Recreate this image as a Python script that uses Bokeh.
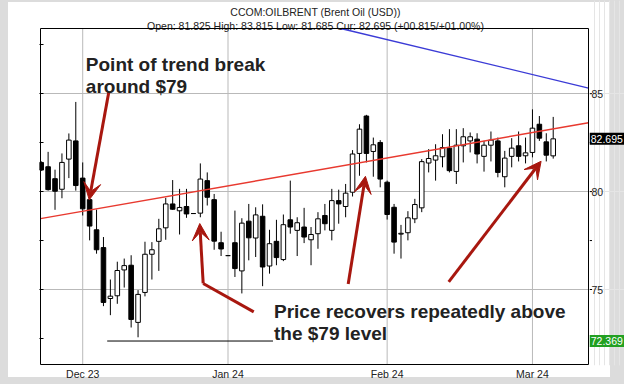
from bokeh.plotting import figure
from bokeh.layouts import column, row
from bokeh.models import (Range1d, FixedTicker, Label, Arrow, VeeHead, ColumnDataSource)
from bokeh.core.properties import value
from bokeh.embed import file_html
from bokeh.resources import INLINE

# ---------------- data (trading-day index 0 = 23 Nov 2023) ----------------
opens = [81.49, 81.27, 80.66, 80.12, 81.66, 82.59, 80.69, 79.59, 78.05, 77.14,
         74.54, 74.68, 76.00, 76.24, 73.32, 74.85, 76.80, 77.46, 78.15, 79.37,
         79.02, 79.24, 78.88, 78.90, 80.56, 79.59, 77.39, 76.73, 77.39, 75.95,
         78.49, 77.63, 78.74, 76.20, 77.46, 76.53, 78.56, 78.02, 78.19, 77.54,
         77.85, 78.78, 78.02, 79.54, 79.24, 79.97, 81.95, 83.86, 82.05, 82.51,
         80.48, 79.20, 77.83, 77.90, 78.61, 79.17, 81.46, 81.61, 81.78, 82.22,
         81.03, 82.34, 82.59, 82.68, 81.80, 82.37, 82.59, 80.76, 81.80, 82.34,
         81.83, 82.00, 83.44, 82.54, 81.825]
highs = [81.55, 82.03, 81.12, 81.95, 82.97, 84.58, 81.49, 79.70, 79.08, 77.68,
         75.51, 76.42, 76.58, 76.75, 74.97, 77.44, 77.42, 78.61, 79.68, 80.59,
         80.14, 80.14, 78.88, 81.44, 80.98, 79.88, 77.95, 76.73, 79.03, 78.64,
         79.37, 79.20, 79.35, 78.05, 78.56, 78.83, 80.56, 78.69, 79.17, 78.19,
         78.95, 79.37, 80.14, 80.10, 80.39, 82.12, 83.44, 83.92, 82.76, 82.63,
         80.56, 79.37, 78.30, 79.00, 79.63, 81.66, 82.17, 82.42, 82.93, 83.19,
         83.19, 83.24, 83.02, 82.98, 82.59, 83.07, 82.76, 82.08, 82.73, 83.07,
         82.76, 84.20, 83.86, 82.98, 83.815]
lows = [81.05, 80.05, 79.07, 79.66, 80.69, 80.05, 78.78, 77.51, 76.83, 74.15,
        73.69, 74.27, 75.10, 73.06, 72.56, 74.65, 75.51, 75.95, 77.54, 79.07,
        77.81, 78.66, 78.88, 78.69, 79.29, 77.03, 76.71, 76.73, 75.64, 74.80,
        76.49, 76.66, 75.17, 75.81, 76.24, 76.45, 77.85, 76.71, 77.37, 76.24,
        77.08, 78.02, 77.51, 78.36, 78.69, 79.75, 80.81, 81.49, 80.76, 80.22,
        78.57, 76.83, 76.58, 77.51, 78.39, 78.95, 80.98, 80.56, 81.24, 80.98,
        80.39, 81.49, 82.00, 81.44, 81.02, 81.54, 80.73, 80.22, 81.24, 81.54,
        81.44, 81.75, 82.59, 81.54, 81.685]
closes = [81.10, 80.10, 80.02, 81.49, 82.63, 80.31, 79.12, 78.24, 77.03, 74.34,
          74.66, 75.97, 76.22, 73.47, 74.75, 76.80, 77.03, 78.10, 79.37, 79.10,
          79.19, 78.86, 78.88, 80.64, 79.71, 77.47, 77.07, 76.73, 76.07, 78.39,
          77.64, 78.81, 76.15, 77.34, 76.63, 78.31, 78.19, 78.41, 77.68, 77.81,
          78.61, 78.36, 79.54, 79.37, 79.92, 81.92, 83.19, 81.95, 82.39, 80.64,
          78.83, 77.42, 77.87, 78.66, 79.34, 81.53, 81.69, 81.83, 82.25, 81.07,
          82.37, 82.80, 82.80, 81.92, 82.37, 82.63, 80.98, 81.71, 82.22, 81.80,
          81.98, 83.24, 82.73, 81.86, 82.695]

month_idx = [6, 27, 50, 71]
month_labels = ["Dec 23", "Jan 24", "Feb 24", "Mar 24"]
price_ticks = [75, 80, 85]
minor_price_ticks = [77.5, 82.5]
left_ticks = [72.5, 75, 77.5, 80, 82.5, 85, 87.5]

# plotted window of the chart box
box_x = (-0.1, 79.1)
box_y = (71.17, 88.33)

# drawn lines: (index, price) end points
red_trend = ([-0.1, 79.1], [78.62, 83.52])
blue_trend = ([43.3, 79.1], [88.33, 85.29])
support_level = 72.369
support_span = [9.54, 33.5]
current_price = 82.695

title_1 = "CCOM:OILBRENT (Brent Oil (USD))"
title_2 = "Open: 81.825 High: 83.815 Low: 81.685 Cur: 82.695 (+00.815/+01.00%)"

FONT = "Liberation Sans"
TXT = "#222222"
AR = "#a8170f"

PX_X = 548 / (box_x[1] - box_x[0])      # pixels per bar
PX_Y = 336 / (box_y[1] - box_y[0])      # pixels per dollar

# shared price range: frame spans page y 0..365 (header lives inside it)
YR = Range1d(box_y[0] - 1 / PX_Y, box_y[1] + 28 / PX_Y)

p = figure(width=589, height=384, output_backend="svg", toolbar_location=None,
           x_range=Range1d(box_x[0] - 1 / PX_X, box_x[1] + 1 / PX_X), y_range=YR,
           x_axis_location="below", y_axis_location="left",
           min_border_left=39, min_border_right=0, min_border_top=0,
           min_border_bottom=19)
p.background_fill_color = None
p.border_fill_color = None
p.outline_line_color = None

xa = p.xaxis[0]
xa.ticker = FixedTicker(ticks=month_idx)
xa.major_label_overrides = {i: l for i, l in zip(month_idx, month_labels)}
xa.major_tick_out = 0
xa.major_tick_in = 0
xa.minor_tick_out = 0
xa.minor_tick_in = 0
xa.axis_line_color = None
xa.major_label_standoff = 2
xa.major_label_text_font = FONT
xa.major_label_text_font_size = "10.5px"
xa.major_label_text_color = TXT

ya = p.yaxis[0]
ya.ticker = FixedTicker(ticks=left_ticks)
ya.major_tick_in = 4
ya.major_tick_out = 0
ya.minor_tick_in = 0
ya.minor_tick_out = 0
ya.axis_line_color = None
ya.major_label_text_alpha = 0
ya.major_label_text_font_size = "8px"

p.xgrid.visible = False
p.ygrid.grid_line_color = "#b9b9b9"
p.ygrid.ticker = FixedTicker(ticks=price_ticks)
# vertical month grid lines, limited to the chart box
p.segment(x0=month_idx, y0=[box_y[0]] * len(month_idx), x1=month_idx,
          y1=[box_y[1]] * len(month_idx), line_color="#b9b9b9", line_width=1)

# header
p.text(x=[39.64, 39.64], y=[box_y[1] + 16.3 / PX_Y, box_y[1] + 2.5 / PX_Y],
       text=[title_1, title_2], text_align="center", text_baseline="alphabetic",
       text_font=value(FONT), text_font_size="10.5px", text_color=TXT)

# candles
xs = list(range(len(opens)))
tops = [max(o, c) for o, c in zip(opens, closes)]
bots = [min(o, c) for o, c in zip(opens, closes)]
fills = ["white" if c >= o else "black" for o, c in zip(opens, closes)]
src = ColumnDataSource(dict(x=xs, high=highs, low=lows, top=tops, bottom=bots, fill=fills))
p.segment(x0="x", y0="high", x1="x", y1="low", source=src, line_color="black", line_width=1)
p.vbar(x="x", width=0.66, top="top", bottom="bottom", source=src,
       fill_color="fill", line_color="black", line_width=1)

# trend lines
p.line(red_trend[0], red_trend[1], line_color="#e8392f", line_width=1.5)
p.line(blue_trend[0], blue_trend[1], line_color="#3b3bd6", line_width=1.3)
p.line(support_span, [support_level, support_level], line_color="black", line_width=1)

# chart box border
p.quad(left=[box_x[0]], right=[box_x[1]], bottom=[box_y[0]], top=[box_y[1]],
       fill_color=None, line_color="black", line_width=1)


def arrow(x0, y0, x1, y1):
    p.add_layout(Arrow(end=VeeHead(size=17, fill_color=AR, line_color=AR),
                       x_start=x0, y_start=y0, x_end=x1, y_end=y1,
                       line_color=AR, line_width=3))


arrow(9.77, 85.08, 6.94, 79.58)
p.line([30.72, 23.41], [73.86, 75.31], line_color=AR, line_width=3)
arrow(23.41, 75.31, 22.92, 78.37)
arrow(44.37, 75.28, 46.86, 80.78)
arrow(58.9, 75.39, 72.25, 81.55)


def note(x, y, t):
    p.add_layout(Label(x=x, y=y, text=t, text_font=FONT, text_font_style="bold",
                       text_font_size="19px", text_color=TXT,
                       text_baseline="alphabetic", text_align="left"))


note(6.45, 86.49, "Point of trend break")
note(6.45, 85.39, "around $79")
note(33.65, 73.86, "Price recovers repeatedly above")
note(33.65, 72.76, "the $79 level")

# ---------------- right price scale strip (same borders & range as main) ----------------
side = figure(width=35, height=384, output_backend="svg", toolbar_location=None,
              x_range=Range1d(0, 35), y_range=YR,
              x_axis_location=None, y_axis_location=None,
              min_border_left=0, min_border_right=0, min_border_top=0,
              min_border_bottom=19)
side.background_fill_color = None
side.border_fill_color = None
side.outline_line_color = None
tick_all = sorted(price_ticks + minor_price_ticks)
side.segment(x0=[0] * len(tick_all), y0=tick_all, x1=[2.5] * len(tick_all), y1=tick_all,
             line_color="black", line_width=1)
side.text(x=[2.0] * len(price_ticks), y=price_ticks, text=[str(t) for t in price_ticks],
          text_align="left", text_baseline="middle", text_font=value(FONT),
          text_font_size="10.5px", text_color=TXT)
box_vals = [current_price, support_level]
side.rect(x=[17.5, 17.5], y=box_vals, width=35, height=12, height_units="screen",
          fill_color=["black", "#22a022"], line_color=None)
side.text(x=[1.2, 1.2], y=box_vals, text=[f"{v:.3f}" for v in box_vals],
          text_align="left", text_baseline="middle", text_font=value(FONT),
          text_font_size="10.5px", text_color="white")

layout = column(row(p, side),
                styles={"background-color": "white",
                        "box-shadow": "inset 8px 2px 0 0 #dcdcdc, inset -14px -7px 0 0 #dcdcdc"})

open("out.html", "w").write(file_html(layout, INLINE))
